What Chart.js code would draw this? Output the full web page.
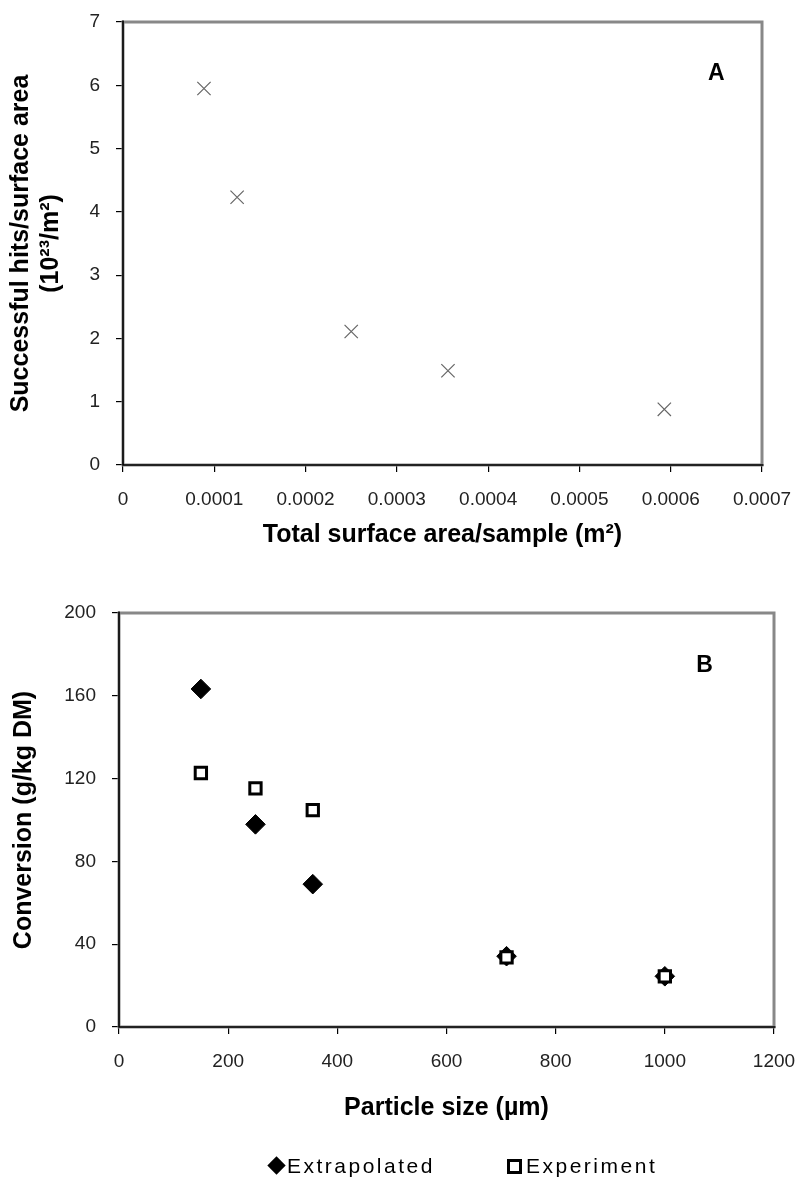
<!DOCTYPE html>
<html>
<head>
<meta charset="utf-8">
<script src="https://cdn.jsdelivr.net/npm/chart.js@4/dist/chart.umd.min.js"></script>
<style>
html,body{margin:0;padding:0;background:#fff;}
#wrap{position:relative;width:799px;height:1178px;overflow:hidden;background:#fff;}
#boxA{position:absolute;left:0;top:0;width:799px;height:580px;}
#boxB{position:absolute;left:0;top:580px;width:799px;height:598px;}
.leg{position:absolute;top:1154px;height:24px;line-height:24px;font-family:'Liberation Sans',Arial,sans-serif;font-size:21px;color:#000;white-space:nowrap;}
.leg span.t{letter-spacing:2.5px;}
.dia{display:inline-block;width:20px;height:24px;position:relative;vertical-align:top;}
.dia i{position:absolute;left:3px;top:5px;width:13px;height:13px;background:#000;transform:rotate(45deg);}
.sq{display:inline-block;width:19px;height:24px;position:relative;vertical-align:top;}
.sq i{position:absolute;left:0px;top:5px;width:9px;height:9px;border:3px solid #000;background:#fff;}
</style>
</head>
<body>
<div id="wrap">
  <div id="boxA"><canvas id="cA" width="799" height="580"></canvas></div>
  <div id="boxB"><canvas id="cB" width="799" height="598"></canvas></div>
  <div class="leg" id="legExt" style="left:267px;"><span class="dia"><i></i></span><span class="t">Extrapolated</span></div>
  <div class="leg" id="legExp" style="left:507px;"><span class="sq"><i></i></span><span class="t">Experiment</span></div>
</div>
<script>
// ---------- Data: chart A ----------
const surfaceArea = [0.0000887, 0.000125, 0.00025, 0.000356, 0.000593];
const hitsPerArea = [5.95, 4.23, 2.11, 1.49, 0.88];
const xTickLabelsA = ['0', '0.0001', '0.0002', '0.0003', '0.0004', '0.0005', '0.0006', '0.0007'];
const yTickLabelsA = ['0', '1', '2', '3', '4', '5', '6', '7'];

// ---------- Data: chart B ----------
const particleSize = [150, 250, 355, 710, 1000];
const extrapolated = [163.3, 97.9, 69.0, 34.2, 24.5];
const experiment = [122.7, 115.3, 104.8, 33.6, 24.5];
const xTickLabelsB = ['0', '200', '400', '600', '800', '1000', '1200'];
const yTickLabelsB = ['0', '40', '80', '120', '160', '200'];

const FONT = "'Liberation Sans', Arial, sans-serif";
Chart.defaults.font.family = FONT;
Chart.defaults.color = '#222';

const framePlugin = {
  id: 'frame',
  beforeDatasetsDraw(chart, args, opts) {
    const {left, top, right, bottom} = chart.chartArea;
    const ctx = chart.ctx;
    ctx.save();
    ctx.strokeStyle = '#888';
    ctx.lineWidth = 3;
    ctx.strokeRect(left, top, right - left, bottom - top);
    ctx.strokeStyle = '#000';
    ctx.lineWidth = 1.6;
    ctx.beginPath();
    ctx.moveTo(left, top - 1.5);
    ctx.lineTo(left, bottom);
    ctx.lineTo(right + 1.5, bottom);
    ctx.stroke();
    ctx.fillStyle = '#000';
    ctx.font = 'bold 23px ' + FONT;
    ctx.textAlign = 'center';
    ctx.textBaseline = 'middle';
    ctx.fillText(opts.text, chart.scales.x.getPixelForValue(opts.x), chart.scales.y.getPixelForValue(opts.y));
    ctx.restore();
  }
};

function zeroPad(s) { s.paddingLeft = 0; s.paddingRight = 0; s.paddingTop = 0; s.paddingBottom = 0; }

function axisCommon(labels, padding) {
  return {
    grid: {display: true, drawOnChartArea: false, drawTicks: true, tickLength: 7, color: '#000', lineWidth: 1.2},
    border: {display: false},
    ticks: {
      font: {size: 19}, color: '#222', padding: padding,
      autoSkip: false, maxRotation: 0, minRotation: 0,
      callback: (v, i) => labels[i]
    }
  };
}

// ---------- Chart A ----------
const xA = axisCommon(xTickLabelsA, 16);
Object.assign(xA, {
  type: 'linear', min: 0, max: 0.0007,
  afterFit: s => { s.height = 115; zeroPad(s); },
  title: {display: true, text: 'Total surface area/sample (m²)', color: '#000',
          font: {size: 25, weight: 'bold'}, padding: {top: 0, bottom: 30}}
});
xA.ticks.stepSize = 0.0001;
const yA = axisCommon(yTickLabelsA, 16);
Object.assign(yA, {
  type: 'linear', min: 0, max: 7,
  afterFit: s => { s.width = 123; zeroPad(s); },
  title: {display: true, text: ['Successful hits/surface area', '(10²³/m²)'], color: '#000',
          font: {size: 25, weight: 'bold', lineHeight: 1.2}, padding: {top: 6, bottom: 0}}
});
yA.ticks.stepSize = 1;

new Chart(document.getElementById('cA'), {
  type: 'scatter',
  data: {
    datasets: [{
      label: 'Hits',
      data: surfaceArea.map((x, i) => ({x: x, y: hitsPerArea[i]})),
      pointStyle: 'crossRot', pointRadius: 9.4, borderColor: '#666', borderWidth: 1.2,
      backgroundColor: '#666'
    }]
  },
  options: {
    responsive: false, animation: false, devicePixelRatio: 1,
    layout: {padding: {top: 22, right: 37, left: 0, bottom: 0}},
    plugins: {legend: {display: false}, tooltip: {enabled: false}, frame: {text: 'A', x: 0.00065, y: 6.19}},
    scales: {x: xA, y: yA}
  },
  plugins: [framePlugin]
});

// ---------- Chart B ----------
const xB = axisCommon(xTickLabelsB, 16);
Object.assign(xB, {
  type: 'linear', min: 0, max: 1200,
  afterFit: s => { s.height = 151; zeroPad(s); },
  title: {display: true, text: 'Particle size (µm)', color: '#000',
          font: {size: 25, weight: 'bold'}, padding: {top: 0, bottom: 55}}
});
xB.ticks.stepSize = 200;
const yB = axisCommon(yTickLabelsB, 16);
Object.assign(yB, {
  type: 'linear', min: 0, max: 200,
  afterFit: s => { s.width = 119; zeroPad(s); },
  title: {display: true, text: 'Conversion (g/kg DM)', color: '#000',
          font: {size: 25, weight: 'bold'}, padding: {top: 9, bottom: 0}}
});
yB.ticks.stepSize = 40;

new Chart(document.getElementById('cB'), {
  type: 'scatter',
  data: {
    datasets: [{
      label: 'Extrapolated',
      data: particleSize.map((x, i) => ({x: x, y: extrapolated[i]})),
      pointStyle: 'rectRot', pointRadius: 9.8, backgroundColor: '#000', borderColor: '#000', borderWidth: 1,
      order: 2
    }, {
      label: 'Experiment',
      data: particleSize.map((x, i) => ({x: x, y: experiment[i]})),
      pointStyle: 'rect', pointRadius: 8, backgroundColor: '#fff', borderColor: '#000', borderWidth: 3,
      order: 1
    }]
  },
  options: {
    responsive: false, animation: false, devicePixelRatio: 1,
    layout: {padding: {top: 33, right: 25, left: 0, bottom: 0}},
    plugins: {legend: {display: false}, tooltip: {enabled: false}, frame: {text: 'B', x: 1073, y: 174.5}},
    scales: {x: xB, y: yB}
  },
  plugins: [framePlugin]
});
</script>
</body>
</html>
